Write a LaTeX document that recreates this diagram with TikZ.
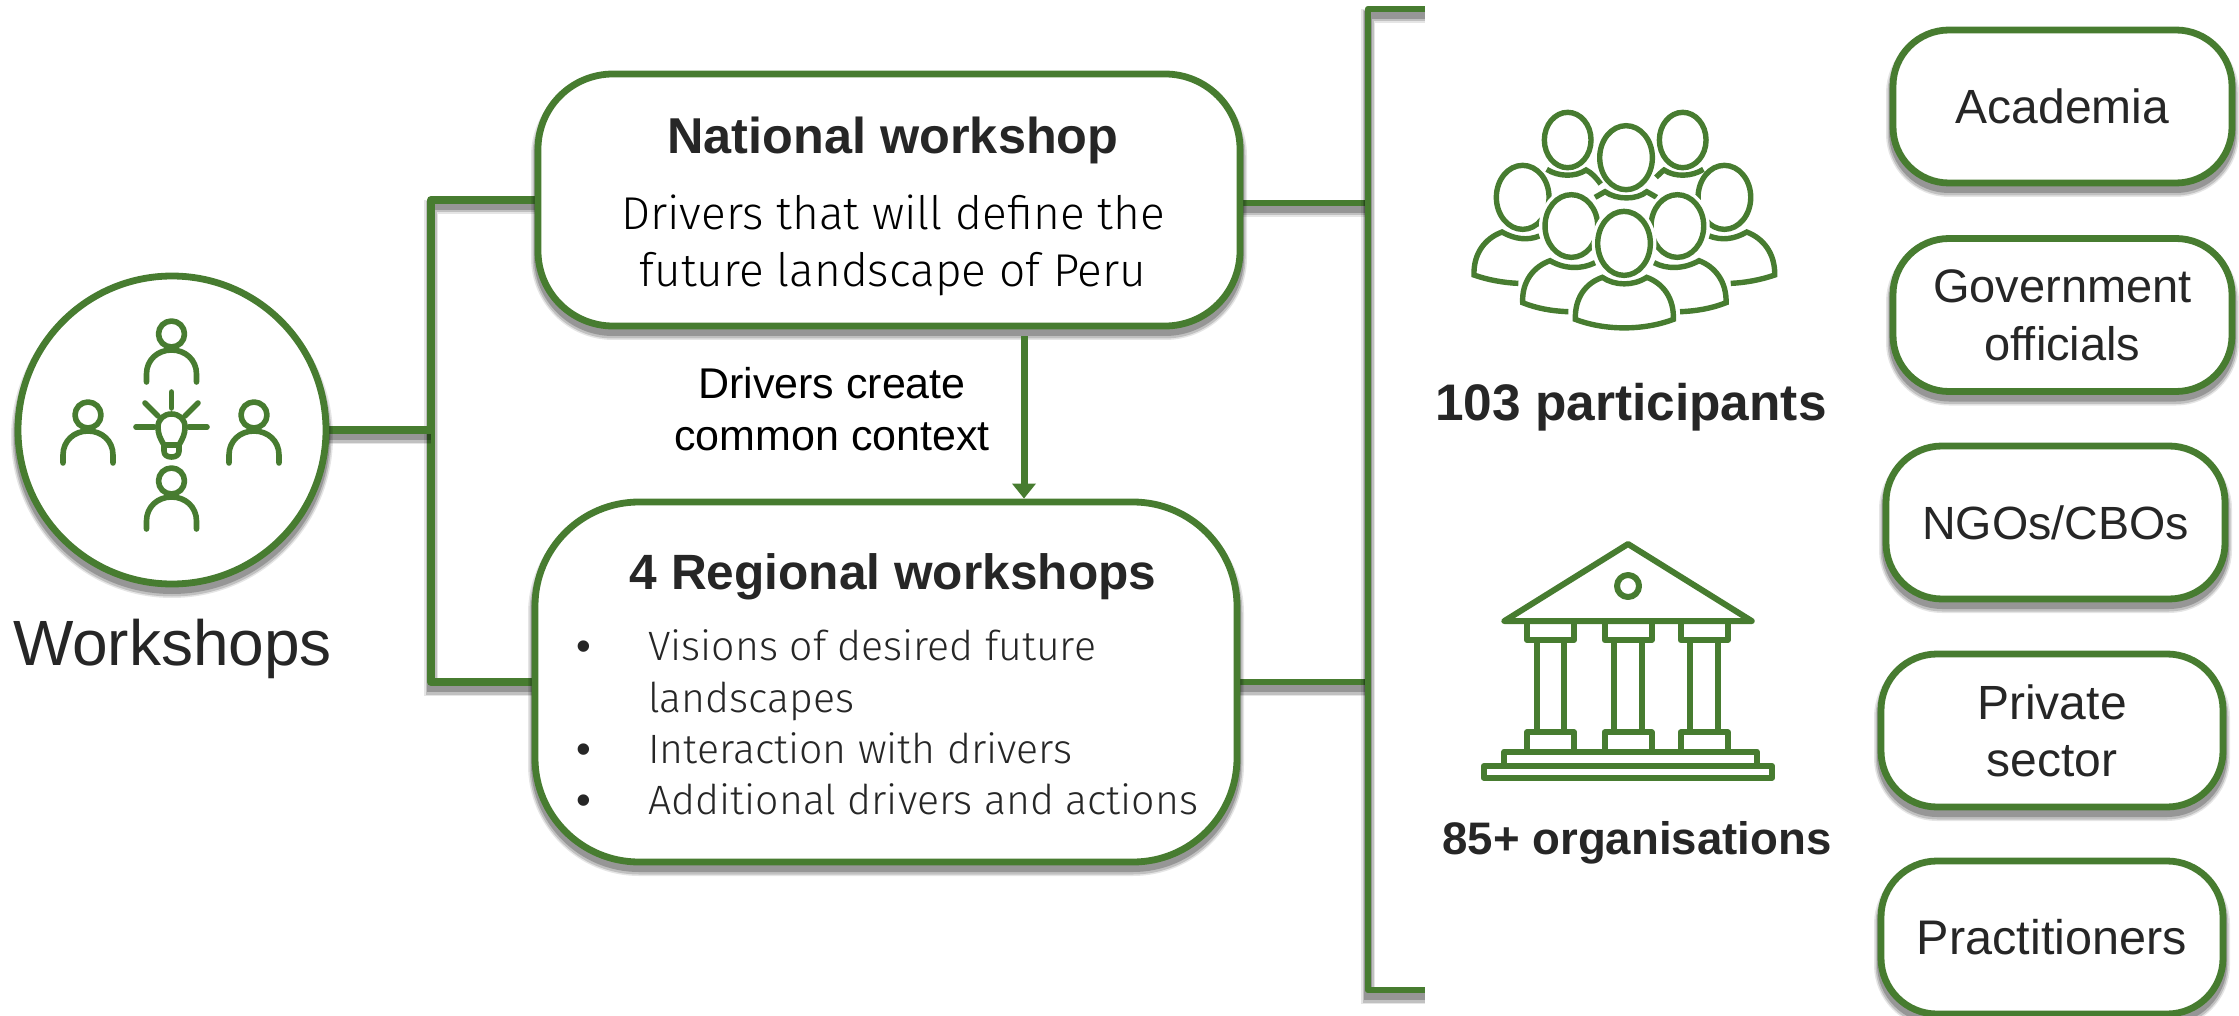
\documentclass[tikz,border=0pt]{standalone}
\usepackage{fontspec}
\setmainfont{Liberation Sans}
\newfontfamily\lightf{Fira Sans Light}
\usetikzlibrary{arrows.meta,calc,backgrounds}
\definecolor{grn}{HTML}{477C30}
\definecolor{ink}{HTML}{262626}
\newcommand{\fsz}[1]{\fontsize{#1}{#1}\selectfont}
\tikzset{
  softshadow/.style={
    preaction={draw=black,draw opacity=.10,line width=7pt,transform canvas={yshift=-3.5pt}},
    preaction={draw=black,draw opacity=.16,line width=5.5pt,transform canvas={yshift=-3.5pt}},
    preaction={draw=black,draw opacity=.22,line width=4pt,transform canvas={yshift=-3pt}}},
  conn/.style={draw=grn,line width=3.2pt,line join=round,softshadow},
  connthick/.style={conn,line width=4pt},
  card/.style={draw=grn,line width=3.4pt,fill=white,inner sep=0pt,softshadow},
  mainbox/.style={card,rectangle,minimum width=351pt},
  sidebox/.style={card,rectangle,rounded corners=28pt,minimum height=76.5pt,text=ink,align=center,font=\fsz{24}},
  lbl/.style={inner sep=0pt,text=ink,anchor=base},
  lighttxt/.style={lbl,text=black,font=\lightf\fsz{23}},
  listtxt/.style={lbl,anchor=base west,font=\lightf\fsz{20.5}},
  boldtxt/.style={lbl,font=\bfseries\fsz{25.2}},
  icon/.style={draw=grn,line width=2.8pt,line cap=round,line join=round},
  crowd/.style={draw=grn,line width=2.7pt,line join=miter},
  temple/.style={draw=grn,line width=3pt,line join=round},
  person/.pic={
    \draw[icon] (0,0) circle[radius=13];
    \draw[icon] (-25,48) -- (-25,40) .. controls (-25,26) and (-14,16) .. (0,16) .. controls (14,16) and (25,26) .. (25,40) -- (25,48);
  }
}
\begin{document}
\begin{tikzpicture}[x=.5pt,y=-.5pt]
\useasboundingbox (0,0) rectangle (2239,1016);
\coordinate (jt) at (431,200);
\coordinate (jb) at (431,682);
\coordinate (btop) at (1368,9);
\coordinate (bbot) at (1368,990);
\coordinate (btopend) at (1425,9);
\coordinate (bbotend) at (1425,990);
\coordinate (arrx) at (1024,0);
% boxes
\node[card,circle,minimum size=154pt] (wrk) at (172,430) {};
\node[mainbox,minimum height=126pt,rounded corners=37.5pt] (nat) at (889,200) {};
\node[mainbox,minimum height=180pt,rounded corners=52pt] (reg) at (886,682) {};
% connectors behind the boxes
\begin{scope}[on background layer]
\draw[connthick] (nat.west) -- (jt) -- (jb) -- (reg.west);
\draw[connthick] (wrk.east) -- (wrk.east -| jt);
\draw[conn] ([yshift=-1.5pt]nat.east) -- ([yshift=-1.5pt]nat.east -| btop);
\draw[conn] (reg.east) -- (reg.east -| btop);
\draw[conn] (btopend) -- (btop) -- (bbot) -- (bbotend);
\end{scope}
\node[lbl,font=\fsz{32}] (wrklabel) at (172.5,665) {Workshops};
\pic at (171.5,334) {person};
\pic at (88,415) {person};
\pic at (254,415) {person};
\pic at (171.5,481) {person};
% bulb
\draw[icon] (171.5,392) -- (171.5,408);
\draw[icon] (136,427) -- (154,427);
\draw[icon] (189,427) -- (207,427);
\draw[icon] (145,403) -- (158,416);
\draw[icon] (198,403) -- (185,416);
\draw[icon] (164,445) .. controls (160,438) and (158,434) .. (158,427) .. controls (158,419) and (164,414) .. (171.5,414) .. controls (179,414) and (185,419) .. (185,427) .. controls (185,434) and (183,438) .. (179,445);
\draw[icon] (164,445) -- (164,451) .. controls (164,455) and (167,457) .. (171.5,457) .. controls (176,457) and (179,455) .. (179,451) -- (179,445) -- cycle;
% arrow
\draw[draw=grn,line width=3.5pt,-{Triangle[length=7.5pt,width=11.5pt]},shorten <=3.5pt] (nat.south -| arrx) -- (reg.north -| arrx);
% main box texts
\node[boldtxt] (nattitle) at (893,154) {National workshop};
\node[lighttxt] (natline1) at (893,230) {Drivers that will define the};
\node[lighttxt] (natline2) at (893,287) {future landscape of Peru};
\node[lbl,font=\fsz{21.5},text=black] (ctx1) at (832,399) {Drivers create};
\node[lbl,font=\fsz{21.5},text=black] (ctx2) at (832,450) {common context};
\node[lbl,font=\bfseries\fsz{24.8}] (regtitle) at (893,589) {4 Regional workshops};
\node[lbl,font=\fsz{21}] (b1) at (584,660) {•};
\node[lbl,font=\fsz{21}] (b2) at (584,763) {•};
\node[lbl,font=\fsz{21}] (b3) at (584,814) {•};
\node[listtxt] (l1) at (648,660) {Visions of desired future};
\node[listtxt] (l2) at (648,712) {landscapes};
\node[listtxt] (l3) at (648,763) {Interaction with drivers};
\node[listtxt] (l4) at (648,814) {Additional drivers and actions};
% crowd icon
\begin{scope}[shift={(1440,90)},x=.1667pt,y=-.1667pt]
  \draw[crowd] (248,322) ellipse[x radius=79,y radius=96];
  \draw[crowd] (853,322) ellipse[x radius=79,y radius=96];
  \draw[crowd] (383,150) ellipse[x radius=70,y radius=83];
  \draw[crowd] (728,150) ellipse[x radius=70,y radius=83];
  \draw[crowd] (558,203) ellipse[x radius=79,y radius=96];
  \draw[crowd] (320,238) .. controls (355,260) and (405,262) .. (438,240) .. controls (455,248) and (470,265) .. (482,282);
  \draw[crowd] (790,238) .. controls (755,260) and (705,262) .. (672,240) .. controls (665,245) and (655,255) .. (648,262);
  \draw[crowd] (465,322) -- (495,305) .. controls (530,330) and (590,330) .. (620,305) -- (650,322);
  \draw[crowd] (298,438) .. controls (262,452) and (225,448) .. (186,426) .. controls (135,445) and (100,490) .. (102,555) .. controls (145,570) and (190,578) .. (235,580);
  \draw[crowd] (808,438) .. controls (845,452) and (882,448) .. (920,426) .. controls (970,445) and (1005,490) .. (1004,555) .. controls (960,570) and (915,578) .. (872,580);
  \foreach \ex in {394,712}{
    \draw[white,line width=6pt,fill=white] (\ex,408) ellipse[x radius=79,y radius=94];
    \draw[crowd] (\ex,408) ellipse[x radius=79,y radius=94];
  }
  \draw[crowd] (465,518) .. controls (425,538) and (375,538) .. (330,512) .. controls (280,530) and (245,575) .. (248,638) .. controls (290,655) and (335,663) .. (385,665);
  \draw[crowd] (642,518) .. controls (680,538) and (730,538) .. (777,512) .. controls (825,530) and (860,575) .. (858,638) .. controls (815,655) and (770,663) .. (720,665);
  \draw[white,line width=6pt,fill=white] (552,460) ellipse[x radius=79,y radius=96];
  \draw[crowd,fill=white] (552,460) ellipse[x radius=79,y radius=96];
  \draw[crowd] (406,688) .. controls (404,625) and (435,580) .. (487,562) .. controls (525,588) and (580,588) .. (620,562) .. controls (670,580) and (702,625) .. (700,688) .. controls (610,722) and (495,722) .. (406,688) -- cycle;
\end{scope}
% temple icon
\begin{scope}[shift={(1460,520)},x=.1667pt,y=-.1667pt]
  \draw[temple] (504,72) -- (875,303) -- (133,303) -- cycle;
  \draw[temple] (504,198) circle[radius=33];
  \foreach \cx in {201,434,662}{
    \draw[temple] (\cx,303) rectangle ++(141,57);
    \draw[temple] (\cx,637) rectangle ++(141,58);
    \draw[temple] (\cx+29,360) -- (\cx+29,637);
    \draw[temple] (\cx+111,360) -- (\cx+111,637);
  }
  \draw[temple] (133,695) rectangle (890,738);
  \draw[temple] (71,738) rectangle (936,773);
\end{scope}
\node[boldtxt,font=\bfseries\fsz{25.7}] (partlabel) at (1631,421) {103 participants};
\node[boldtxt,font=\bfseries\fsz{22.8}] (orglabel) at (1637,854) {85+ organisations};
% right boxes
\node[sidebox,minimum width=169.5pt] (aca) at (2062.5,106.5) {Academia};
\node[sidebox,minimum width=169.5pt,font=\fsz{23.5}] (gov) at (2062.5,315) {Government\\[5.5pt]officials};
\node[sidebox,minimum width=169.5pt,font=\fsz{23.3}] (ngo) at (2055.5,522.5) {NGOs/CBOs};
\node[sidebox,minimum width=171pt] (pri) at (2052,730.5) {Private\\[4.5pt]sector};
\node[sidebox,minimum width=171pt,font=\fsz{24.3}] (pra) at (2052,937.5) {Practitioners};
\end{tikzpicture}
\end{document}
